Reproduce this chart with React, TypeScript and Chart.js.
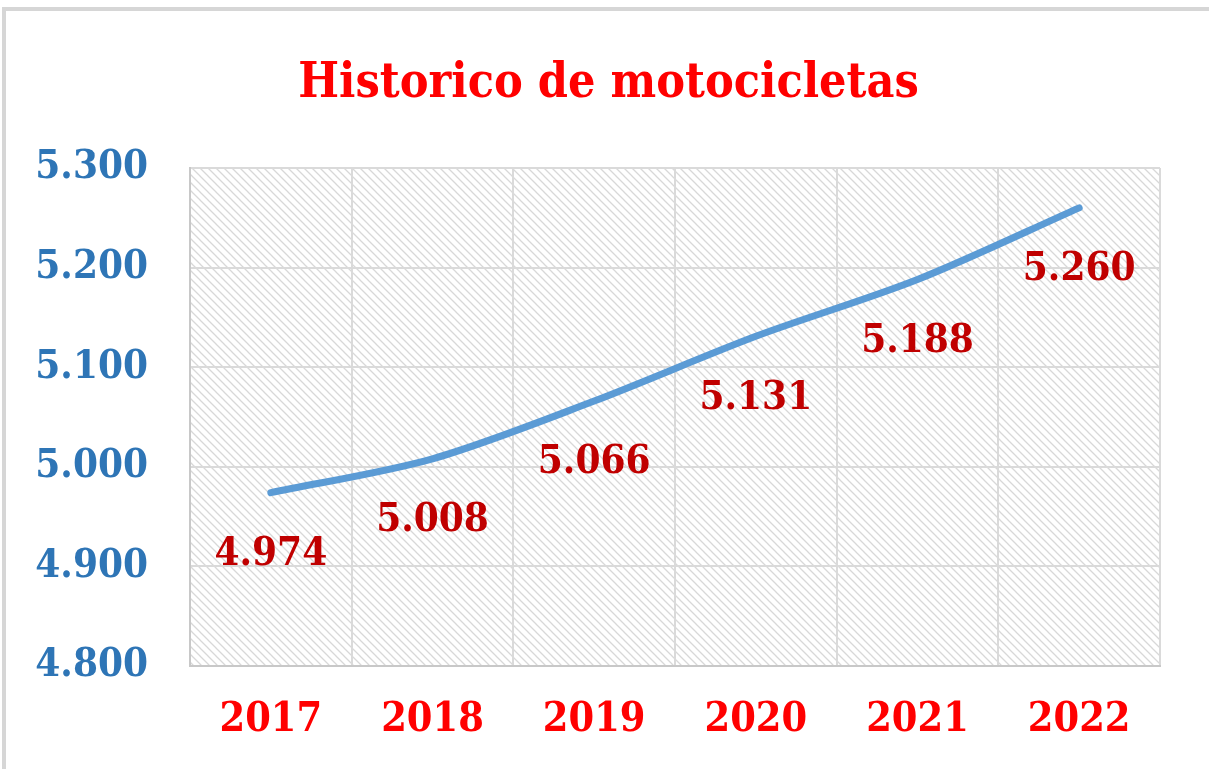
import React, { useEffect, useRef } from "react";
import { Chart, registerables } from "chart.js";

Chart.register(...registerables);

const categories = ["2017", "2018", "2019", "2020", "2021", "2022"];
const values = [4974, 5008, 5066, 5131, 5188, 5260];
const yMin = 4800;
const yMax = 5300;
const yStep = 100;
const titleText = "Historico de motocicletas";

const FONT = "'DejaVu Serif Condensed', 'DejaVu Serif', serif";

function fmt(v: number): string {
  const s = Math.round(v).toString();
  return s.replace(/\B(?=(\d{3})+(?!\d))/g, ".");
}

function makePattern(ctx: CanvasRenderingContext2D): CanvasPattern | string {
  const c = document.createElement("canvas");
  const n = 8;
  c.width = n;
  c.height = n;
  const p = c.getContext("2d");
  if (!p) return "#ffffff";
  p.fillStyle = "#ffffff";
  p.fillRect(0, 0, n, n);
  p.strokeStyle = "#d8d8d8";
  p.lineWidth = 1.3;
  p.beginPath();
  p.moveTo(-2, -2);
  p.lineTo(n + 2, n + 2);
  p.moveTo(-2 - n, -2);
  p.lineTo(2, n + 2);
  p.moveTo(n - 2, -2);
  p.lineTo(2 * n + 2, n + 2);
  p.stroke();
  return ctx.createPattern(c, "repeat") || "#ffffff";
}

const hatchPlugin = {
  id: "hatch",
  beforeDraw(chart: any) {
    const { ctx, chartArea } = chart;
    if (!chartArea) return;
    ctx.save();
    ctx.fillStyle = makePattern(ctx);
    ctx.fillRect(chartArea.left, chartArea.top, chartArea.right - chartArea.left, chartArea.bottom - chartArea.top);
    ctx.restore();
  },
};

const titlePlugin = {
  id: "centeredTitle",
  afterDraw(chart: any) {
    const { ctx, width } = chart;
    ctx.save();
    ctx.font = `bold 48px ${FONT}`;
    ctx.fillStyle = "#FF0000";
    ctx.textAlign = "center";
    ctx.textBaseline = "middle";
    ctx.fillText(titleText, width / 2 + 4, 85);
    ctx.restore();
  },
};

const labelPlugin = {
  id: "pointLabels",
  afterDatasetsDraw(chart: any) {
    const { ctx } = chart;
    const meta = chart.getDatasetMeta(0);
    ctx.save();
    ctx.font = `bold 40px ${FONT}`;
    ctx.fillStyle = "#C00000";
    ctx.textAlign = "center";
    ctx.textBaseline = "middle";
    meta.data.forEach((pt: any, i: number) => {
      ctx.fillText(fmt(values[i]), pt.x, pt.y + 62);
    });
    ctx.restore();
  },
};

export default function App() {
  const ref = useRef<HTMLCanvasElement>(null);

  useEffect(() => {
    document.body.style.margin = "0";
    document.body.style.overflow = "hidden";
    if (!ref.current) return;
    const chart = new Chart(ref.current, {
      type: "line",
      data: {
        labels: categories,
        datasets: [
          {
            data: values,
            borderColor: "#5B9BD5",
            borderWidth: 7,
            pointRadius: 0,
            tension: 0.3,
            fill: false,
            borderCapStyle: "round",
          },
        ],
      },
      options: {
        responsive: false,
        animation: false,
        layout: { padding: { top: 168, right: 49, bottom: 0, left: 0 } },
        plugins: {
          legend: { display: false },
          tooltip: { enabled: false },
          title: { display: false },
        },
        scales: {
          x: {
            offset: true,
            grid: { offset: true, color: "#dadada", lineWidth: 2, drawTicks: false },
            border: { color: "#c8c8c8", width: 2 },
            ticks: {
              color: "#FF0000",
              font: { family: FONT, size: 41, weight: "bold" },
              padding: 30,
            },
            afterFit: (s: any) => {
              s.height = 103;
            },
          },
          y: {
            min: yMin,
            max: yMax,
            grid: { color: "#dadada", lineWidth: 2, drawTicks: false },
            border: { color: "#c8c8c8", width: 2 },
            ticks: {
              stepSize: yStep,
              color: "#2E75B6",
              font: { family: FONT, size: 40, weight: "bold" },
              padding: 42,
              callback: (v: any) => fmt(Number(v)),
            },
            afterFit: (s: any) => {
              s.width = 190;
            },
          },
        },
      },
      plugins: [hatchPlugin, labelPlugin, titlePlugin],
    } as any);
    return () => chart.destroy();
  }, []);

  return (
    <div style={{ position: "relative", width: 1209, height: 769, overflow: "hidden", background: "#fff" }}>
      <div
        style={{
          position: "absolute",
          left: 2,
          top: 7,
          width: 1400,
          height: 1000,
          border: "4px solid #d6d6d6",
          boxSizing: "border-box",
        }}
      />
      <canvas ref={ref} width={1209} height={769} style={{ position: "absolute", left: 0, top: 0, display: "block" }} />
    </div>
  );
}
